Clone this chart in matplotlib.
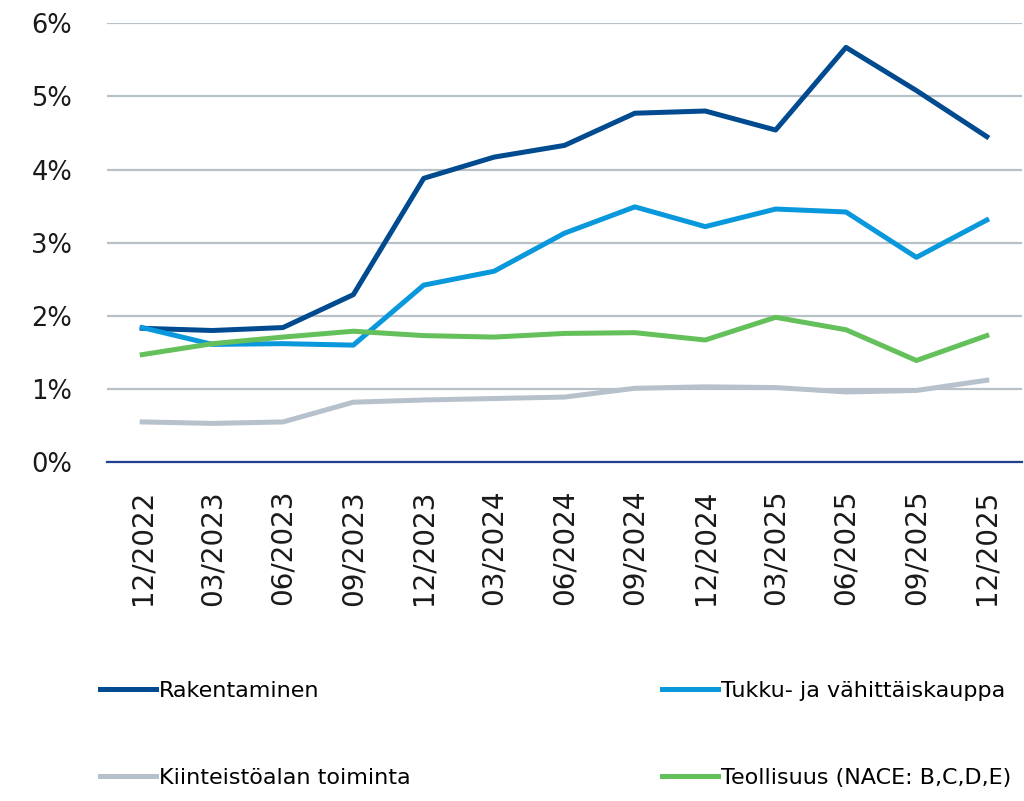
import matplotlib
matplotlib.use("Agg")
from matplotlib import pyplot as plt
from matplotlib.ticker import FuncFormatter

plt.rcParams['font.family'] = ['DejaVu Sans']

dates = ["12/2022", "03/2023", "06/2023", "09/2023", "12/2023", "03/2024", "06/2024",
         "09/2024", "12/2024", "03/2025", "06/2025", "09/2025", "12/2025"]

rakentaminen = [1.83, 1.80, 1.84, 2.29, 3.88, 4.17, 4.33, 4.77, 4.80, 4.54, 5.67, 5.08, 4.45]
tukku = [1.84, 1.61, 1.62, 1.60, 2.42, 2.61, 3.13, 3.49, 3.22, 3.46, 3.42, 2.80, 3.31]
kiinteisto = [0.55, 0.53, 0.55, 0.82, 0.85, 0.87, 0.89, 1.01, 1.03, 1.02, 0.96, 0.98, 1.12]
teollisuus = [1.47, 1.62, 1.71, 1.79, 1.73, 1.71, 1.76, 1.77, 1.67, 1.98, 1.81, 1.39, 1.73]

fig = plt.figure(figsize=(10.24, 8.01), dpi=100)
ax = fig.add_axes([0.1045, 0.423, 0.8935, 0.548])

x = range(len(dates))
l1, = ax.plot(x, rakentaminen, color="#004a8f", lw=3.6, label="Rakentaminen")
l2, = ax.plot(x, tukku, color="#0998dc", lw=3.6, label="Tukku- ja vähittäiskauppa")
l3, = ax.plot(x, kiinteisto, color="#b7c1cb", lw=3.6, label="Kiinteistöalan toiminta")
l4, = ax.plot(x, teollisuus, color="#64c05a", lw=3.6, label="Teollisuus (NACE: B,C,D,E)")

ax.set_xlim(-0.5, len(dates) - 0.5)
ax.set_ylim(0, 6)
ax.set_yticks(range(0, 7))
ax.yaxis.set_major_formatter(FuncFormatter(lambda v, p: "%d%%" % v))
ax.set_xticks(list(x))
ax.set_xticklabels(dates, rotation=90)
ax.tick_params(axis='both', length=0, colors="#1a1a1a")
ax.tick_params(axis='x', pad=20, labelsize=20)
ax.tick_params(axis='y', pad=25, labelsize=18.5)

ax.grid(axis='y', color="#b8c0c8", lw=1.6)
ax.set_axisbelow(True)
for s in ["top", "left", "right"]:
    ax.spines[s].set_visible(False)
ax.spines["bottom"].set_color("#1f3f8f")
ax.spines["bottom"].set_linewidth(1.6)
ax.spines["bottom"].set_zorder(5)

# two legend columns, placed separately
leg_kw = dict(loc="upper left", frameon=False, fontsize=16, handlelength=2.5,
              handletextpad=0.15, labelspacing=3.0, borderpad=0, borderaxespad=0)
fig.legend(handles=[l1, l3], bbox_to_anchor=(100 / 1024, 1 - 681 / 801), **leg_kw)
fig.legend(handles=[l2, l4], bbox_to_anchor=(662 / 1024, 1 - 681 / 801), **leg_kw)

fig.savefig("out.png", dpi=100)
